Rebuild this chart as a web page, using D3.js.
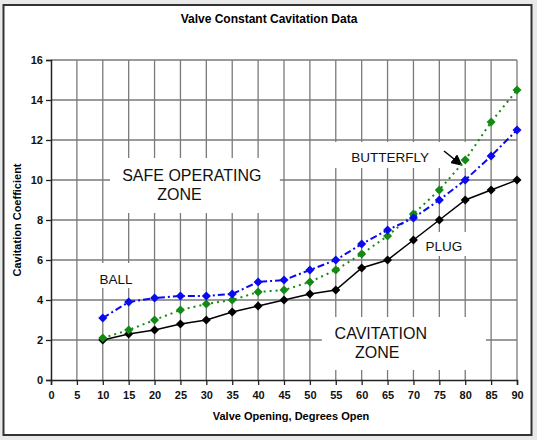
<!DOCTYPE html>
<html lang="en">
<head>
	<meta charset="utf-8">
	<script src="https://d3js.org/d3.v7.min.js"></script>
	<style>
		html, body { margin: 0; padding: 0; background: #e9e9e9; }
		text { font-family: "Liberation Sans", Arial, sans-serif; }
	</style>
</head>
<body>
<div id="chart"></div>
<script>

// chart data
var openings  = [10, 15, 20, 25, 30, 35, 40, 45, 50, 55, 60, 65, 70, 75, 80, 85, 90];
var plug      = [2.0, 2.3, 2.5, 2.8, 3.0, 3.4, 3.7, 4.0, 4.3, 4.5, 5.6, 6.0, 7.0, 8.0, 9.0, 9.5, 10.0];
var ball      = [3.1, 3.9, 4.1, 4.2, 4.2, 4.3, 4.9, 5.0, 5.5, 6.0, 6.8, 7.5, 8.1, 9.0, 10.0, 11.2, 12.5];
var butterfly = [2.1, 2.5, 3.0, 3.5, 3.8, 4.0, 4.4, 4.5, 4.9, 5.5, 6.3, 7.2, 8.3, 9.5, 11.0, 12.9, 14.5];
var xTickValues = [0, 5, 10, 15, 20, 25, 30, 35, 40, 45, 50, 55, 60, 65, 70, 75, 80, 85, 90];
var yTickValues = [0, 2, 4, 6, 8, 10, 12, 14, 16];

var W = 537, H = 440;
var margin = {top: 60, right: 20, bottom: 60, left: 51},
  width = 517 - margin.left,
  height = 380 - margin.top;

var root = d3.select("#chart")
  .append("svg")
    .attr("width", W)
    .attr("height", H);

// outer frame
root.append("rect")
  .attr("x", 3.5).attr("y", 5)
  .attr("width", 528).attr("height", 430)
  .attr("fill", "#fff")
  .attr("stroke", "#333")
  .attr("stroke-width", 2);

root.append("text")
  .attr("x", 269).attr("y", 23)
  .attr("text-anchor", "middle")
  .style("font-size", "12px")
  .style("font-weight", "bold")
  .text("Valve Constant Cavitation Data");

var svg = root.append("g")
  .attr("transform", "translate(" + margin.left + "," + margin.top + ")");

var x = d3.scaleLinear().domain([0, 90]).range([0, width]);
var y = d3.scaleLinear().domain([0, 16]).range([height, 0]);

// grid
svg.append("g")
  .selectAll("line")
  .data(xTickValues.slice(1))
  .enter().append("line")
    .attr("x1", function(d) { return x(d); })
    .attr("x2", function(d) { return x(d); })
    .attr("y1", 0).attr("y2", height)
    .attr("stroke", "#7a7a7a")
    .attr("stroke-width", 1.3);

svg.append("g")
  .selectAll("line")
  .data(yTickValues.slice(1))
  .enter().append("line")
    .attr("x1", 0).attr("x2", width)
    .attr("y1", function(d) { return y(d); })
    .attr("y2", function(d) { return y(d); })
    .attr("stroke", "#7a7a7a")
    .attr("stroke-width", 1.3);

// white label boxes that hide the grid behind them
var boxes = [
  [11.4, 44.2, 11.1, 8.35],
  [52.3, 84.0, 3.15, 0.5],
  [8.5, 16.6, 5.85, 4.6],
  [71.6, 80.3, 7.4, 6.2],
  [54.2, 80.2, 11.9, 10.6]
];
svg.append("g")
  .selectAll("rect")
  .data(boxes)
  .enter().append("rect")
    .attr("x", function(d) { return x(d[0]); })
    .attr("width", function(d) { return x(d[1]) - x(d[0]); })
    .attr("y", function(d) { return y(d[2]); })
    .attr("height", function(d) { return y(d[3]) - y(d[2]); })
    .attr("fill", "#fff");

// axes
svg.append("g")
  .attr("transform", "translate(0," + height + ")")
  .call(d3.axisBottom(x).tickValues(xTickValues).tickSize(5).tickPadding(6))
  .call(function(g) {
    g.select(".domain").attr("stroke", "#222").attr("stroke-width", 1.5);
    g.selectAll(".tick line").attr("stroke", "#222").attr("stroke-width", 1.3);
    g.selectAll("text").style("font-size", "11px").style("font-weight", "bold")
      .style("font-family", "Liberation Sans, Arial, sans-serif").attr("fill", "#111");
  });

svg.append("g")
  .call(d3.axisLeft(y).tickValues(yTickValues).tickSize(5).tickPadding(3))
  .call(function(g) {
    g.select(".domain").attr("stroke", "#222").attr("stroke-width", 1.5);
    g.selectAll(".tick line").attr("stroke", "#222").attr("stroke-width", 1.3);
    g.selectAll("text").style("font-size", "11px").style("font-weight", "bold")
      .style("font-family", "Liberation Sans, Arial, sans-serif").attr("fill", "#111");
  });

// axis titles
svg.append("text")
  .attr("x", x(45) + 7).attr("y", height + 40)
  .attr("text-anchor", "middle")
  .style("font-size", "11px")
  .style("font-weight", "bold")
  .text("Valve Opening, Degrees Open");

svg.append("text")
  .attr("transform", "translate(-30," + (height / 2) + ") rotate(-90)")
  .attr("text-anchor", "middle")
  .style("font-size", "11px")
  .style("font-weight", "bold")
  .text("Cavitation Coefficient");

// zone and series labels
var labels = [
  ["SAFE OPERATING", 27.2, 9.95, 16],
  ["ZONE", 24.8, 9.0, 16],
  ["CAVITATION", 63.7, 2.05, 16],
  ["ZONE", 63.0, 1.1, 16],
  ["BALL", 12.55, 4.8, 13.5],
  ["PLUG", 75.9, 6.45, 13.5],
  ["BUTTERFLY", 65.5, 10.9, 13.5]
];
svg.append("g")
  .selectAll("text")
  .data(labels)
  .enter().append("text")
    .attr("x", function(d) { return x(d[1]); })
    .attr("y", function(d) { return y(d[2]); })
    .attr("text-anchor", "middle")
    .style("font-size", function(d) { return d[3] + "px"; })
    .attr("fill", "#111")
    .text(function(d) { return d[0]; });

// arrow pointing at the butterfly curve
root.append("defs").append("marker")
  .attr("id", "arrow")
  .attr("viewBox", "0 0 10 10")
  .attr("refX", 9).attr("refY", 5)
  .attr("markerWidth", 7.5).attr("markerHeight", 7.5)
  .attr("orient", "auto")
  .append("path")
    .attr("d", "M0,0 L10,5 L0,10 Z")
    .attr("fill", "#000");

svg.append("line")
  .attr("x1", x(75.9)).attr("y1", y(11.45))
  .attr("x2", x(79.3)).attr("y2", y(10.75))
  .attr("stroke", "#000")
  .attr("stroke-width", 1.5)
  .attr("marker-end", "url(#arrow)");

// series
var series = [
  {name: "Plug", values: plug, color: "#000000", dash: null},
  {name: "Butterfly", values: butterfly, color: "#138a13", dash: "2,4"},
  {name: "Ball", values: ball, color: "#0a0aee", dash: "7,3,2,3"}
];

var line = d3.line()
  .x(function(d) { return x(d[0]); })
  .y(function(d) { return y(d[1]); });

var diamond = d3.symbol().type(d3.symbolDiamond2).size(52);

series.forEach(function(s) {
  var pts = openings.map(function(o, i) { return [o, s.values[i]]; });

  svg.append("path")
    .datum(pts)
    .attr("d", line)
    .attr("fill", "none")
    .attr("stroke", s.color)
    .attr("stroke-width", s.dash ? 2 : 1.5)
    .attr("stroke-dasharray", s.dash);

  svg.append("g")
    .selectAll("path")
    .data(pts)
    .enter().append("path")
      .attr("transform", function(d) { return "translate(" + x(d[0]) + "," + y(d[1]) + ")"; })
      .attr("d", diamond)
      .attr("fill", s.color);
});

</script>
</body>
</html>
